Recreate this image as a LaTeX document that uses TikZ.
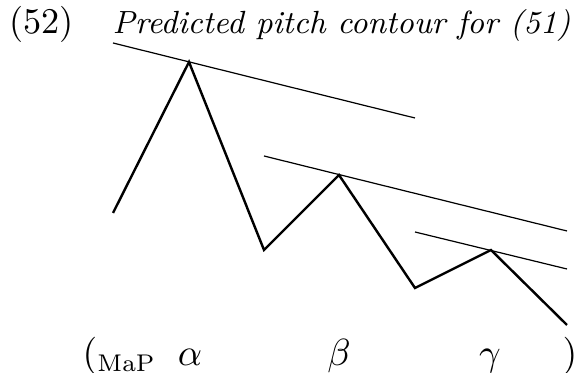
\documentclass[tikz,border=0pt]{standalone}
\usetikzlibrary{calc}

\tikzset{
  contour/.style={line width=0.7pt,line join=miter},
  topline/.style={line width=0.35pt},
  lab/.style={inner sep=0pt,anchor=base,font=\fontsize{10.5}{12}\selectfont}
}

\begin{document}
\begin{tikzpicture}[x=0.29pt,y=-0.29pt]
  \useasboundingbox (0,0) rectangle (579,373);

  % heading
  \node[lab,anchor=base west] (num) at (9,34) {(52)};
  \node[lab,anchor=base west,font=\fontsize{9.3}{11}\selectfont] (title) at (112,34) {\textit{Predicted pitch contour for (51)}};

  % turning points of the contour
  \coordinate (s) at (113,213);
  \coordinate (pa) at (189,62);
  \coordinate (ta) at (264,250);
  \coordinate (pb) at (339,175);
  \coordinate (tb) at (415,288);
  \coordinate (pc) at (491,250);
  \coordinate (e) at (567,325);

  % declination lines
  \coordinate (la) at (113,43);  \coordinate (ra) at (415,118);
  \coordinate (lb) at (264,156); \coordinate (rb) at (567,231);
  \coordinate (lc) at (415,232); \coordinate (rc) at (567,269);

  \draw[contour] (s) -- (pa) -- (ta) -- (pb) -- (tb) -- (pc) -- (e);
  \draw[topline] (la) -- (ra);
  \draw[topline] (lb) -- (rb);
  \draw[topline] (lc) -- (rc);

  % phrase labels
  \node[lab,anchor=base west] (open) at (82,366) {$(_{\mathrm{MaP}}$};
  \node[lab] (alpha) at (190,366) {$\alpha$};
  \node[lab] (beta) at (339,366) {$\beta$};
  \node[lab] (gamma) at (490,366) {$\gamma$};
  \node[lab] (close) at (570,366) {$)$};
\end{tikzpicture}
\end{document}
